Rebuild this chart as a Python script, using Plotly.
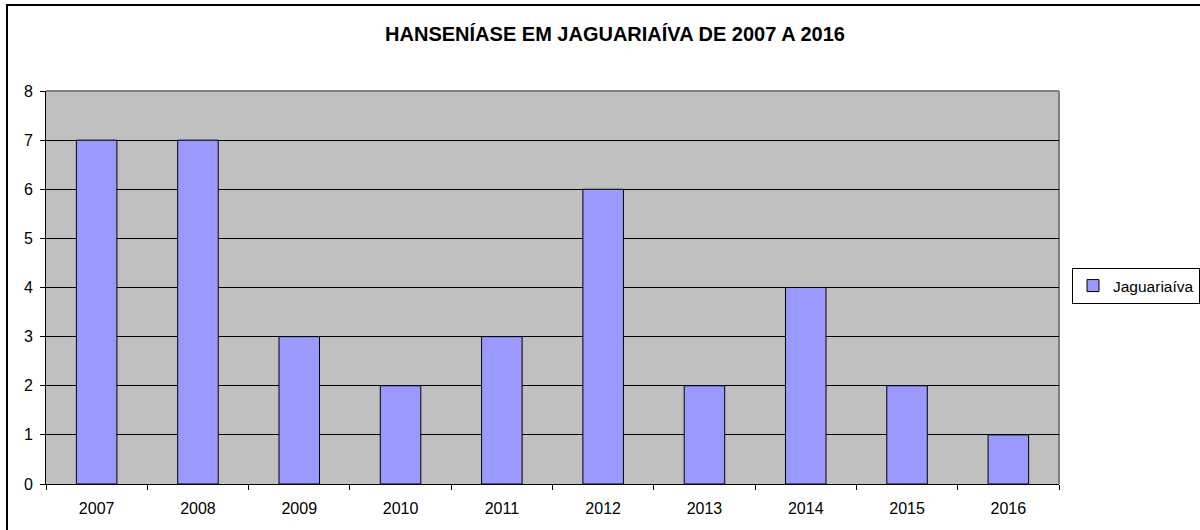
import plotly.graph_objects as go

years = ["2007", "2008", "2009", "2010", "2011", "2012", "2013", "2014", "2015", "2016"]
cases = [7, 7, 3, 2, 3, 6, 2, 4, 2, 1]
series_name = "Jaguariaíva"
title_text = "HANSENÍASE EM JAGUARIAÍVA DE 2007 A 2016"

W, H = 1200, 530
L, R, T, B = 46, 141, 91, 46
pw = W - L - R
ph = H - T - B

def px_x(px):
    return (px - L) / pw

def px_y(py):
    return (H - B - py) / ph

fig = go.Figure()
fig.add_trace(go.Bar(
    x=years, y=cases, name=series_name,
    marker=dict(color="#9999FF", line=dict(color="black", width=1)),
    showlegend=True,
))

font_family = "Liberation Sans, Arial, sans-serif"

fig.update_layout(
    width=W, height=H,
    margin=dict(l=L, r=R, t=T, b=B, pad=0, autoexpand=False),
    paper_bgcolor="white",
    plot_bgcolor="#C0C0C0",
    bargap=0.6,
    font=dict(family=font_family, size=16, color="black"),
    title=dict(text="<b>" + title_text + "</b>", x=615 / W, xanchor="center",
               y=1 - 34 / H, yanchor="middle",
               font=dict(family=font_family, size=20, color="black")),
    showlegend=True,
    legend=dict(x=px_x(1072), xanchor="left", y=px_y(286), yanchor="middle",
                bordercolor="black", borderwidth=1, bgcolor="white",
                font=dict(family=font_family, size=15.5, color="black")),
    xaxis=dict(type="category", tickson="boundaries", ticks="outside", ticklen=5,
               tickcolor="black", showline=True, linecolor="black", linewidth=1,
               showgrid=False, tickfont=dict(size=16), ticklabelstandoff=10),
    yaxis=dict(range=[0, 8], dtick=1, ticks="outside", ticklen=5, tickcolor="black",
               showline=True, linecolor="black", linewidth=1,
               showgrid=True, gridcolor="black", gridwidth=1, zeroline=False,
               tickfont=dict(size=16), ticklabelstandoff=4),
    shapes=[
        dict(type="line", xref="paper", yref="paper", x0=0, x1=1, y0=1, y1=1,
             line=dict(color="#808080", width=2), layer="below"),
        dict(type="line", xref="paper", yref="paper", x0=1, x1=1, y0=0, y1=1,
             line=dict(color="#808080", width=2), layer="below"),
        dict(type="rect", xref="paper", yref="paper",
             x0=px_x(7), x1=px_x(1260), y0=px_y(5), y1=px_y(600),
             line=dict(color="black", width=2), layer="below"),
    ],
)

fig.write_html("out.html", config={"displayModeBar": False},
               post_script="document.body.style.margin='0';")
